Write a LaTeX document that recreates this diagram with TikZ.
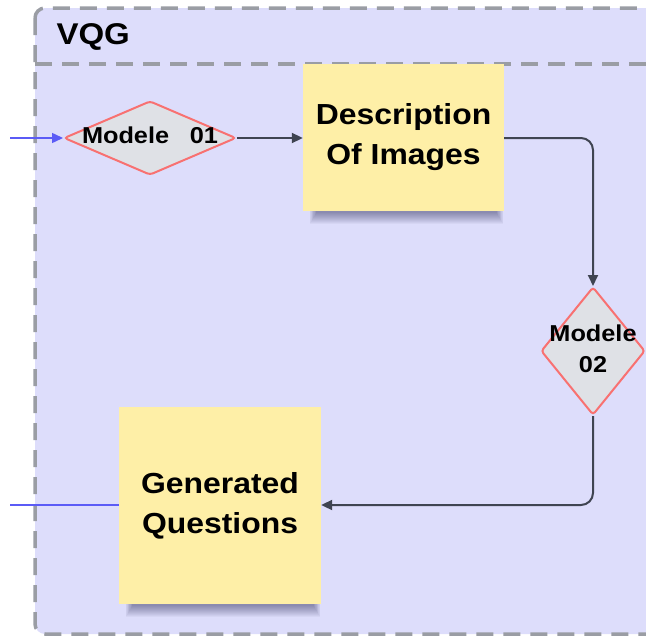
\documentclass[tikz,border=0pt]{standalone}
\usepackage{fontspec}
\setmainfont{Liberation Sans}
\newfontfamily\labfont[FakeStretch=1.1]{Liberation Sans}
\usetikzlibrary{shapes.geometric,arrows.meta}
\definecolor{lanefill}{HTML}{DDDDFB}
\definecolor{laneline}{HTML}{9A9DA4}
\definecolor{diafill}{HTML}{DFE1E6}
\definecolor{diaedge}{HTML}{F87171}
\definecolor{notefill}{HTML}{FEEFA7}
\definecolor{wire}{HTML}{3F4451}
\definecolor{inwire}{HTML}{5B5BF6}
\pgfdeclarelayer{lanebg}
\pgfdeclarelayer{shade}
\pgfsetlayers{lanebg,shade,main}
\tikzset{
  x=1pt, y=-1pt,
  lane/.style={draw=laneline, line width=3.5pt, dash pattern=on 17pt off 10pt},
  decision/.style={shape=diamond, draw=diaedge, fill=diafill, line width=2pt,
    rounded corners=3pt, inner sep=0pt},
  note/.style={draw=none, fill=notefill, inner sep=0pt},
  notetext/.style={font=\labfont\bfseries\fontsize{29}{40}\selectfont, align=center, text=black},
  diatext/.style={font=\labfont\bfseries\fontsize{23}{31}\selectfont, align=center, text=black},
  flow/.style={draw=wire, line width=2pt, rounded corners=12pt,
    -{Triangle[length=11pt,width=10pt]}},
  inflow/.style={draw=inwire, line width=1.5pt},
}
% soft drop shadow under a sticky note, built from stacked translucent strips
\newcommand\noteshadow[1]{%
  \begin{pgfonlayer}{shade}
  \foreach \i in {0,...,11}{
    \fill[black!80!blue, opacity=0.035]
      ([xshift={7pt+0.6pt*\i}, yshift=12pt]#1.south west) rectangle
      ([xshift={-1pt-0.6pt*\i}, yshift={-13pt+\i*1pt}]#1.south east);
  }
  \end{pgfonlayer}}
\begin{document}
\begin{tikzpicture}
\useasboundingbox (0,0) rectangle (646,637);
% swimlane container and its header
\begin{pgfonlayer}{lanebg}
\path[fill=lanefill, rounded corners=10pt] (35,8) rectangle (680,634);
\draw[lane, rounded corners=10pt] (35,8) rectangle (680,634);
\draw[lane] (35,64) -- (680,64);
\end{pgfonlayer}
\node[font=\labfont\bfseries\fontsize{30}{36}\selectfont, anchor=west] (title) at (53,37) {VQG};

% shapes
\node[decision, minimum width=172pt, minimum height=74pt] (m1) at (150,138) {};
\node[diatext] (m1t) at (150,135) {Modele\hspace{0.9em}01};
\node[note, minimum width=201pt, minimum height=147pt] (desc) at (403.5,137.5) {};
\node[notetext] (desct) at (403.5,137) {Description\\Of Images};
\node[decision, minimum width=104pt, minimum height=128pt] (m2) at (593,351) {};
\node[diatext] (m2t) at (593,349) {Modele\\02};
\node[note, minimum width=202pt, minimum height=197pt] (gen) at (220,505.5) {};
\node[notetext] (gent) at (220,506) {Generated\\Questions};
\noteshadow{desc}
\noteshadow{gen}

% incoming ends
\coordinate (in1) at (10,138);
\coordinate (in2) at (10,505);

% connectors
\draw[inflow, -{Triangle[length=11pt,width=10pt]}] (in1) -- (m1.west);
\draw[inflow] (in2) -- (gen.west |- in2);
\draw[flow] (m1.east) -- (desc.west |- m1.east);
\draw[flow] (desc.east |- m1.east) -| (m2.north);
\draw[flow] (m2.south) |- (gen.east |- in2);
\end{tikzpicture}
\end{document}
